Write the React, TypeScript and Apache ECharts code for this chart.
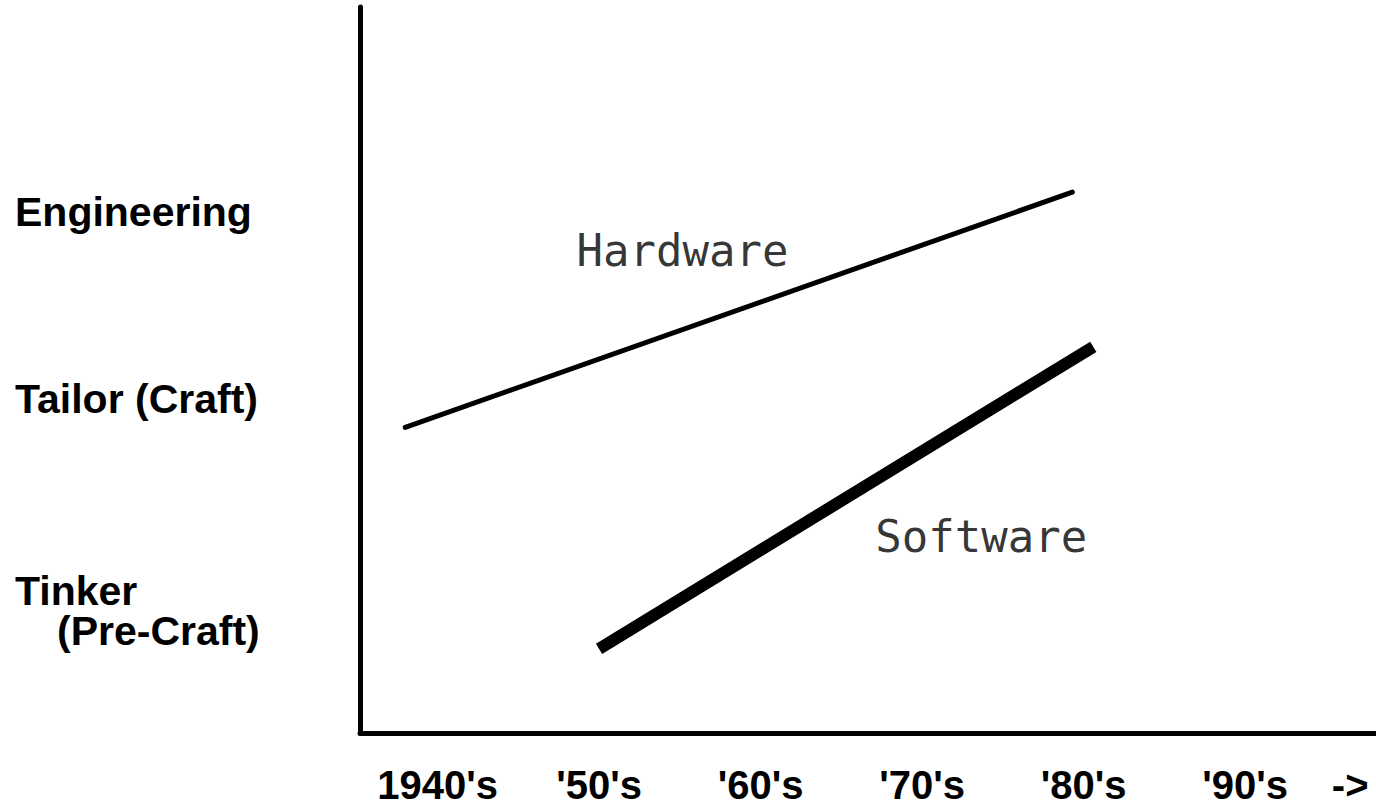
import React, { useEffect, useRef } from "react";
import * as echarts from "echarts";

const decadeValues = [1940, 1950, 1960, 1970, 1980, 1990, 1996.5];
const decadeLabels = ["1940's", "'50's", "'60's", "'70's", "'80's", "'90's", "->"];

const levelValues = [16.8, 46.0, 71.8];
const levelLabels = ["Tinker\n(Pre-Craft)", "Tailor (Craft)", "Engineering"];

const hardwareYears = [1938.0, 1979.3];
const hardwareLevels = [42.1, 74.5];

const softwareYears = [1950.0, 1980.6];
const softwareLevels = [11.6, 53.2];

const annotationNames = ["Hardware", "Software"];
const annotationYears = [1948.6, 1967.1];
const annotationLevels = [66.4, 27.0];

function findLabel(values: number[], labels: string[], v: number) {
  for (let i = 0; i < values.length; i++) {
    if (Math.abs(values[i] - v) < 0.01) return labels[i];
  }
  return "";
}

export default function App() {
  const ref = useRef<HTMLDivElement>(null);
  useEffect(() => {
    if (!ref.current) return;
    const chart = echarts.init(ref.current, undefined, { renderer: "svg" });
    const labelFont = "'Liberation Sans', Arial, Helvetica, sans-serif";
    chart.setOption({
      animation: false,
      backgroundColor: "#ffffff",
      grid: { left: 360, right: 0, top: 7, bottom: 78, containLabel: false },
      xAxis: {
        type: "value",
        min: 1935.2,
        max: 1998.1,
        axisLine: { show: true, onZero: false, lineStyle: { color: "#000", width: 5 } },
        axisTick: { show: false },
        splitLine: { show: false },
        axisLabel: {
          customValues: decadeValues,
          formatter: (v: number) => findLabel(decadeValues, decadeLabels, v),
          color: "#000",
          fontFamily: labelFont,
          fontWeight: "bold",
          fontSize: 40,
          margin: 32,
          showMinLabel: true,
          showMaxLabel: true,
        },
      },
      yAxis: {
        type: "value",
        min: 0,
        max: 100,
        axisLine: { show: true, onZero: false, lineStyle: { color: "#000", width: 5 } },
        axisTick: { show: false },
        splitLine: { show: false },
        axisLabel: {
          customValues: levelValues,
          formatter: (v: number) => {
            const s = findLabel(levelValues, levelLabels, v);
            if (s.indexOf("\n") >= 0) {
              const parts = s.split("\n");
              return "{a|" + parts[0] + "}\n{b|" + parts[1] + "}";
            }
            return "{a|" + s + "}";
          },
          align: "left",
          margin: 345,
          color: "#000",
          fontFamily: labelFont,
          fontWeight: "bold",
          fontSize: 41,
          lineHeight: 40,
          rich: {
            a: { fontFamily: labelFont, fontWeight: "bold", fontSize: 41, lineHeight: 40, color: "#000" },
            b: {
              fontFamily: labelFont,
              fontWeight: "bold",
              fontSize: 41,
              lineHeight: 40,
              color: "#000",
              padding: [0, 0, 0, 42],
            },
          },
        },
      },
      series: [
        {
          name: "Hardware",
          type: "line",
          data: hardwareYears.map((x, i) => [x, hardwareLevels[i]]),
          symbol: "none",
          lineStyle: { color: "#000", width: 5, cap: "round" },
        },
        {
          name: "Software",
          type: "line",
          data: softwareYears.map((x, i) => [x, softwareLevels[i]]),
          symbol: "none",
          lineStyle: { color: "#000", width: 12, cap: "butt" },
        },
        {
          name: "Labels",
          type: "scatter",
          symbolSize: 0,
          data: annotationYears.map((x, i) => ({
            value: [x, annotationLevels[i]],
            name: annotationNames[i],
          })),
          label: {
            show: true,
            position: "right",
            distance: 0,
            formatter: (p: any) => p.name,
            color: "#000",
            fontFamily: "'DejaVu Sans Mono', monospace",
            fontSize: 44,
          },
        },
      ],
    });
    return () => chart.dispose();
  }, []);
  return (
    <div
      ref={ref}
      style={{ position: "fixed", left: 0, top: 0, width: 1376, height: 811, background: "#fff" }}
    />
  );
}
